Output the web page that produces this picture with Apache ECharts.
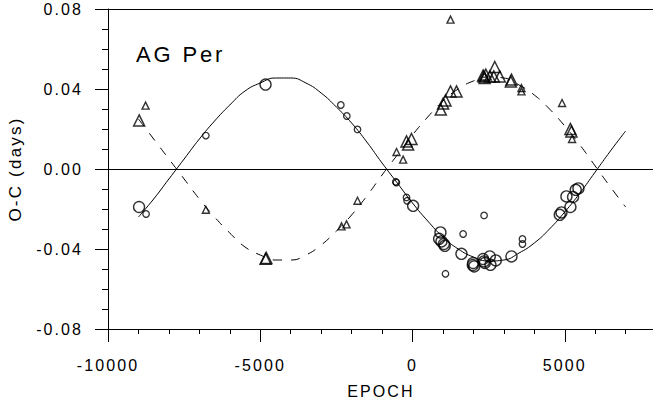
<!DOCTYPE html>
<html><head><meta charset="utf-8">
<script src="https://cdn.jsdelivr.net/npm/echarts@6/dist/echarts.min.js"></script>
<style>
html,body{margin:0;padding:0;background:#fff}
#chart{width:653px;height:408px}
#chart text{letter-spacing:0.13em}
</style>
</head><body><div id="chart"></div>
<script>
// ---- data ----
const xTickValues = [-10000, -5000, 0, 5000];
const xTickLabels = ['-10000', '-5000', '0', '5000'];
const yTickValues = [-0.08, -0.04, 0, 0.04, 0.08];
const yTickLabels = ['-0.08', '-0.04', '0.00', '0.04', '0.08'];

const circleBigE = [-8980, -4826, 20, 918, 874, 951, 1060, 1030, 1608, 1990, 2025, 1980, 2320, 2350, 2375, 2538, 2560, 2735, 3250, 4836, 4892, 5055, 5186, 5273, 5361, 5449];
const circleBigV = [-0.019, 0.0422, -0.0184, -0.0317, -0.0349, -0.0362, -0.0384, -0.0375, -0.0424, -0.047, -0.0487, -0.048, -0.045, -0.0462, -0.047, -0.0437, -0.0479, -0.0457, -0.0437, -0.0229, -0.0217, -0.0137, -0.019, -0.014, -0.0104, -0.0097];

const circleSmallE = [-8750, -6786, -2354, -2157, -1806, -548, -530, -197, -177, 2351, 1662, 1083, 3611, 3611];
const circleSmallV = [-0.0225, 0.0167, 0.032, 0.0265, 0.0198, -0.0064, -0.0068, -0.0142, -0.0159, -0.0232, -0.0325, -0.0524, -0.035, -0.0375];

const triBigE = [-8976, -4826, -4800, -197, -33, -144, 929, 1006, 1083, 1248, 1445, 2318, 2341, 2370, 2407, 2540, 2702, 2669, 2866, 3250, 3230, 5186, 5219];
const triBigV = [0.0243, -0.0449, -0.0445, 0.0138, 0.015, 0.0122, 0.0297, 0.0327, 0.0343, 0.0388, 0.0388, 0.0467, 0.0463, 0.0455, 0.0472, 0.0463, 0.051, 0.0463, 0.0463, 0.0447, 0.0437, 0.020, 0.0188];

const triSmallE = [-8766, -6786, -1806, -2331, -2167, -525, -308, 1248, 3578, 3578, 4912, 5240];
const triSmallV = [0.0317, -0.0204, -0.0159, -0.0287, -0.0277, 0.0085, 0.0047, 0.0747, 0.0405, 0.0388, 0.033, 0.015];

const curveE = [-9000, -8500, -8000, -7500, -7000, -6500, -6000, -5500, -5000, -4500, -4000, -3500, -3000, -2500, -2000, -1500, -1000, -500, 0, 500, 1000, 1500, 2000, 2500, 3000, 3500, 4000, 4500, 5000, 5500, 6000, 6500, 7000];
const solidV = [-0.024, -0.015, -0.005, 0.005, 0.015, 0.024, 0.032, 0.039, 0.043, 0.0455, 0.0455, 0.043, 0.038, 0.031, 0.023, 0.0135, 0.003, -0.007, -0.017, -0.026, -0.034, -0.040, -0.044, -0.046, -0.0455, -0.042, -0.037, -0.030, -0.0215, -0.012, -0.0015, 0.009, 0.019];
const dashedV = [0.025, 0.015, 0.005, -0.005, -0.015, -0.024, -0.032, -0.039, -0.043, -0.0455, -0.0455, -0.043, -0.038, -0.031, -0.023, -0.0135, -0.003, 0.007, 0.017, 0.026, 0.034, 0.040, 0.044, 0.046, 0.0455, 0.042, 0.037, 0.030, 0.0215, 0.012, 0.0015, -0.009, -0.019];

const titleText = 'AG Per';
const xName = 'EPOCH';
const yName = 'O-C (days)';

// ---- chart ----
const zip = (a, b) => a.map((v, i) => [v, b[i]]);
const FONT = 'Liberation Sans';
const chart = echarts.init(document.getElementById('chart'), null, {renderer: 'svg'});

const axisCommon = {
  axisLine: {show: true, onZero: false, lineStyle: {color: '#000', width: 1}},
  splitLine: {show: false},
  minorSplitLine: {show: false}
};

chart.setOption({
  animation: false,
  backgroundColor: '#fff',
  title: [
    {text: titleText, left: 136, top: 43, padding: 0,
     textStyle: {fontFamily: FONT, fontSize: 22, fontWeight: 'normal', color: '#000'}},
    {text: xName, left: 381, top: 383, padding: 0, textAlign: 'center',
     textStyle: {fontFamily: FONT, fontSize: 16, fontWeight: 'normal', color: '#000'}}
  ],
  grid: {left: 108, top: 9, bottom: 79, right: -64, containLabel: false, outerBoundsMode: 'none'},
  xAxis: [
    Object.assign({}, axisCommon, {
      type: 'value', min: -10000, max: 10000, interval: 5000, position: 'bottom',
      axisTick: {show: true, inside: false, length: 13, lineStyle: {color: '#000', width: 1}},
      minorTick: {show: true, splitNumber: 5, length: 5, lineStyle: {color: '#000', width: 1}},
      axisLabel: {show: true, margin: 28, color: '#000', fontFamily: FONT, fontSize: 16,
        formatter: v => { const i = xTickValues.indexOf(v); return i >= 0 ? xTickLabels[i] : ''; }}
    }),
    Object.assign({}, axisCommon, {
      type: 'value', min: -10000, max: 10000, interval: 5000, position: 'top',
      axisTick: {show: false}, minorTick: {show: false}, axisLabel: {show: false}
    })
  ],
  yAxis: Object.assign({}, axisCommon, {
    type: 'value', min: -0.08, max: 0.08, interval: 0.04,
    name: yName, nameLocation: 'middle', nameGap: 84,
    nameTextStyle: {fontFamily: FONT, fontSize: 17, color: '#000'},
    axisTick: {show: true, inside: false, length: 13, lineStyle: {color: '#000', width: 1}},
    minorTick: {show: true, splitNumber: 4, length: 6, lineStyle: {color: '#000', width: 1}},
    axisLabel: {show: true, margin: 25, color: '#000', fontFamily: FONT, fontSize: 16,
      formatter: v => { const i = yTickValues.findIndex(t => Math.abs(t - v) < 1e-9); return i >= 0 ? yTickLabels[i] : ''; }}
  }),
  series: [
    {type: 'line', data: zip(curveE, solidV), smooth: true, showSymbol: false, symbol: 'none',
     lineStyle: {color: '#000', width: 1, type: 'solid'}, z: 2,
     markLine: {silent: true, symbol: 'none', label: {show: false},
       lineStyle: {color: '#000', width: 1, type: 'solid'}, data: [{yAxis: 0}]}},
    {type: 'line', data: zip(curveE, dashedV), smooth: true, showSymbol: false, symbol: 'none',
     lineStyle: {color: '#000', width: 1, type: [9, 9]}, z: 2},
    {type: 'scatter', data: zip(circleBigE, circleBigV), symbol: 'circle', symbolSize: 11,
     itemStyle: {color: 'transparent', borderColor: '#000', borderWidth: 1.4}, z: 3},
    {type: 'scatter', data: zip(circleSmallE, circleSmallV), symbol: 'circle', symbolSize: 6.5,
     itemStyle: {color: 'transparent', borderColor: '#000', borderWidth: 1.3}, z: 3},
    {type: 'scatter', data: zip(triBigE, triBigV), symbol: 'triangle', symbolSize: 11,
     itemStyle: {color: 'transparent', borderColor: '#000', borderWidth: 1.5}, z: 3},
    {type: 'scatter', data: zip(triSmallE, triSmallV), symbol: 'triangle', symbolSize: 7,
     itemStyle: {color: 'transparent', borderColor: '#000', borderWidth: 1.4}, z: 3}
  ]
});
</script></body></html>
